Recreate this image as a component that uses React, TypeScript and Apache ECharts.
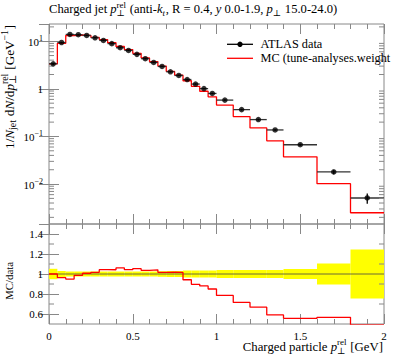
import React, { useEffect, useRef } from 'react';
import * as echarts from 'echarts';

// ---------- data ----------
const binEdges = [0, 0.05, 0.1, 0.15, 0.2, 0.25, 0.3, 0.35, 0.4, 0.45, 0.5, 0.55, 0.6, 0.65, 0.7, 0.75, 0.8, 0.85, 0.9, 0.95, 1.0, 1.1, 1.2, 1.3, 1.4, 1.6, 1.8, 2.0];
const dataVals = [3.36, 9.4, 13.9, 13.7, 13.2, 11.8, 10.4, 8.9, 7.3, 6.4, 5.3, 4.3, 3.58, 2.95, 2.28, 1.91, 1.57, 1.26, 1.01, 0.80, 0.58, 0.366, 0.226, 0.137, 0.067, 0.018, 0.0051];
const dataRelErr = [0.052, 0.03, 0.025, 0.025, 0.025, 0.025, 0.025, 0.025, 0.025, 0.025, 0.025, 0.025, 0.025, 0.028, 0.03, 0.03, 0.035, 0.035, 0.035, 0.035, 0.04, 0.04, 0.04, 0.04, 0.05, 0.105, 0.245];
const mcVals = [3.36, 9.05, 13.2, 13.5, 13.3, 12.0, 10.85, 9.28, 7.74, 6.68, 5.58, 4.46, 3.73, 3.0, 2.32, 1.94, 1.48, 1.13, 0.89, 0.68, 0.456, 0.262, 0.151, 0.081, 0.0373, 0.0102, 0.0025];
const xTickLabels = ['0', '0.5', '1', '1.5', '2'];
const ratioMajorTicks = [0.6, 0.8, 1.0, 1.2, 1.4];
const ratioMinorTicks = [0.7, 0.9, 1.1, 1.3];
const legendNames = ['ATLAS data', 'MC (tune-analyses.weight'];

const FONT = '"Liberation Serif", "DejaVu Serif", serif';
const AX = '#888';

let mctx: CanvasRenderingContext2D | null = null;
function textW(t: string, size: number, it?: boolean) {
  if (!mctx) mctx = document.createElement('canvas').getContext('2d');
  mctx!.font = `${it ? 'italic ' : ''}${size}px ${FONT}`;
  return mctx!.measureText(t).width;
}
function txt(t: string, x: number, y: number, size: number, it?: boolean) {
  return {
    type: 'text', x, y,
    style: { text: t, font: `${it ? 'italic ' : ''}${size}px ${FONT}`, fill: '#000', align: 'left', verticalAlign: 'middle', textAlign: 'left', textVerticalAlign: 'middle' },
  };
}
type Seg = { t?: string; it?: boolean; sup?: string; sub?: string; supIt?: boolean; subIt?: boolean };
function mathGroup(segs: Seg[], x: number, y: number, size: number, align: 'left' | 'right', rotation = 0, sr = 0.7) {
  const ss = size * sr;
  const up = -size * 0.37;
  const dn = size * 0.3;
  const children: any[] = [];
  let cx = 0;
  for (const s of segs) {
    if (s.t != null) {
      children.push(txt(s.t, cx, 0, size, s.it));
      cx += textW(s.t, size, s.it);
    } else {
      let w = 0;
      if (s.sup) { children.push(txt(s.sup, cx, up, ss, s.supIt)); w = Math.max(w, textW(s.sup, ss, s.supIt)); }
      if (s.sub) { children.push(txt(s.sub, cx, dn, ss, s.subIt)); w = Math.max(w, textW(s.sub, ss, s.subIt)); }
      cx += w + size * 0.05;
    }
  }
  const off = align === 'right' ? -cx : 0;
  children.forEach((c) => (c.x += off));
  return { type: 'group', x, y, rotation, z: 100, children };
}

export default function App() {
  const ref = useRef<HTMLDivElement>(null);
  useEffect(() => {
    const chart = echarts.init(ref.current!, undefined, { renderer: 'svg' });
    const n = dataVals.length;
    const mcLine = mcVals.map((v, i) => [binEdges[i], v]).concat([[binEdges[n], mcVals[n - 1]]]);
    const ratios = mcVals.map((v, i) => v / dataVals[i]);
    const ratioLine = ratios.map((v, i) => [binEdges[i], v]).concat([[binEdges[n], ratios[n - 1]]]);
    const centers = dataVals.map((_, i) => (binEdges[i] + binEdges[i + 1]) / 2);
    const pts = dataVals.map((v, i) => [centers[i], v]);
    const errs = dataVals.map((v, i) => [binEdges[i], binEdges[i + 1], centers[i], v, v * (1 - dataRelErr[i]), v * (1 + dataRelErr[i])]);
    const band = dataRelErr.map((e, i) => [binEdges[i], binEdges[i + 1], 1 - e, 1 + e]);
    const yMin = 0.00145, yMax = 23;
    const logMinor: number[][] = [];
    for (let k = -3; k <= 1; k++) for (let m = 2; m <= 9; m++) {
      const v = m * Math.pow(10, k);
      if (v > yMin && v < yMax) logMinor.push([0, v]);
    }

    const xCommon = (grid: number, pos: string, labels: boolean) => ({
      type: 'value', gridIndex: grid, position: pos, min: 0, max: 2, interval: 0.5,
      axisLine: { show: false }, splitLine: { show: false },
      axisTick: { show: true, inside: true, length: 10, lineStyle: { color: AX } },
      minorTick: { show: true, splitNumber: 5, length: 5, lineStyle: { color: AX } },
      axisLabel: labels
        ? { show: true, margin: 6, fontSize: 11, fontFamily: FONT, color: '#000', formatter: (v: number) => xTickLabels[Math.round(v * 2)] }
        : { show: false },
    });
    const tickSeries = (data: number[][], xi: number, yi: number) => ({
      type: 'custom', xAxisIndex: xi, yAxisIndex: yi, silent: true, clip: false, z: 5,
      encode: { x: 0, y: 1 },
      data,
      renderItem: (params: any, api: any) => {
        const v = api.value(1);
        const l = api.coord([0, v]);
        const r = api.coord([2, v]);
        const st = { stroke: AX, lineWidth: 1 };
        return {
          type: 'group', children: [
            { type: 'line', shape: { x1: l[0], y1: l[1], x2: l[0] + 5, y2: l[1] }, style: st },
            { type: 'line', shape: { x1: r[0] - 5, y1: r[1], x2: r[0], y2: r[1] }, style: st },
          ],
        };
      },
    });
    const logLabel = (v: number) => {
      const e = Math.round(Math.log10(v));
      if (e === 0) return '{b|1}';
      return `{b|10}{s|${e < 0 ? '\u2212' + -e : e}}`;
    };

    chart.setOption({
      animation: false,
      textStyle: { fontFamily: FONT },
      grid: [
        { left: 49, top: 24, width: 335, height: 200, show: true, borderColor: AX, borderWidth: 1, backgroundColor: 'transparent' },
        { left: 49, top: 224, width: 335, height: 100, show: true, borderColor: AX, borderWidth: 1, backgroundColor: 'transparent' },
      ],
      xAxis: [xCommon(0, 'bottom', false), xCommon(0, 'top', false), xCommon(1, 'bottom', true), xCommon(1, 'top', false)],
      yAxis: [
        {
          type: 'log', logBase: 10, gridIndex: 0, position: 'left', min: yMin, max: yMax,
          axisLine: { show: false }, splitLine: { show: false },
          axisTick: { show: true, inside: true, length: 10, lineStyle: { color: AX } },
          axisLabel: {
            show: true, margin: 6, showMinLabel: false, showMaxLabel: false, formatter: logLabel,
            rich: {
              b: { fontSize: 11, fontFamily: FONT, color: '#000', verticalAlign: 'bottom' },
              s: { fontSize: 8, fontFamily: FONT, color: '#000', verticalAlign: 'bottom', padding: [0, 0, 5, 0] },
            },
          },
        },
        {
          type: 'log', logBase: 10, gridIndex: 0, position: 'right', min: yMin, max: yMax,
          axisLine: { show: false }, splitLine: { show: false },
          axisTick: { show: true, inside: true, length: 10, lineStyle: { color: AX } },
          axisLabel: { show: false },
        },
        {
          type: 'value', gridIndex: 1, position: 'left', min: 0.5, max: 1.5,
          axisLine: { show: false }, splitLine: { show: false },
          axisTick: { show: true, inside: true, length: 10, customValues: ratioMajorTicks, lineStyle: { color: AX } },
          axisLabel: { show: true, margin: 6, fontSize: 11, fontFamily: FONT, color: '#000', customValues: ratioMajorTicks, formatter: (v: number) => String(Number(v.toFixed(1))) },
        },
        {
          type: 'value', gridIndex: 1, position: 'right', min: 0.5, max: 1.5,
          axisLine: { show: false }, splitLine: { show: false },
          axisTick: { show: true, inside: true, length: 10, customValues: ratioMajorTicks, lineStyle: { color: AX } },
          axisLabel: { show: false },
        },
      ],
      series: [
        {
          type: 'custom', xAxisIndex: 2, yAxisIndex: 2, z: 1, silent: true,
          encode: { x: [0, 1], y: [2, 3] },
          data: band,
          renderItem: (params: any, api: any) => {
            const a = api.coord([api.value(0), api.value(3)]);
            const b = api.coord([api.value(1), api.value(2)]);
            return { type: 'rect', shape: { x: a[0], y: a[1], width: b[0] - a[0], height: b[1] - a[1] }, style: { fill: '#ffff00' } };
          },
        },
        {
          type: 'line', xAxisIndex: 2, yAxisIndex: 2, z: 2, symbol: 'none', silent: true,
          data: [[0, 1], [2, 1]], lineStyle: { color: '#444', width: 0.8 },
        },
        {
          type: 'line', xAxisIndex: 2, yAxisIndex: 2, z: 3, symbol: 'none', step: 'end', clip: true,
          data: ratioLine, lineStyle: { color: '#ff0000', width: 1.3 },
        },
        {
          type: 'line', xAxisIndex: 0, yAxisIndex: 0, z: 3, symbol: 'none', step: 'end', clip: true,
          data: mcLine, lineStyle: { color: '#ff0000', width: 1.3 },
        },
        {
          type: 'custom', xAxisIndex: 0, yAxisIndex: 0, z: 4, silent: true,
          encode: { x: [0, 1, 2], y: [3, 4, 5] },
          data: errs,
          renderItem: (params: any, api: any) => {
            const l = api.coord([api.value(0), api.value(3)]);
            const r = api.coord([api.value(1), api.value(3)]);
            const lo = api.coord([api.value(2), api.value(4)]);
            const hi = api.coord([api.value(2), api.value(5)]);
            return {
              type: 'group', children: [
                { type: 'line', shape: { x1: l[0], y1: l[1], x2: r[0], y2: r[1] }, style: { stroke: '#333', lineWidth: 1.3 } },
                { type: 'line', shape: { x1: lo[0], y1: lo[1], x2: hi[0], y2: hi[1] }, style: { stroke: '#000', lineWidth: 1.3 } },
              ],
            };
          },
        },
        {
          type: 'scatter', xAxisIndex: 0, yAxisIndex: 0, z: 5, symbol: 'circle', symbolSize: 5.5,
          data: pts, itemStyle: { color: '#000' },
        },
        tickSeries(logMinor, 0, 0),
        tickSeries(ratioMinorTicks.map((v) => [0, v]), 2, 2),
      ],
      graphic: [
        mathGroup([
          { t: 'Charged jet ' }, { t: 'p', it: true }, { sup: 'rel', sub: '\u22a5' },
          { t: ' (anti-' }, { t: 'k', it: true }, { sub: 't', subIt: true },
          { t: ', R = 0.4, ' }, { t: 'y', it: true }, { t: ' 0.0-1.9, ' }, { t: 'p', it: true }, { sub: '\u22a5' },
          { t: ' 15.0-24.0)' },
        ], 49, 9.3, 12.6, 'left'),
        mathGroup([
          { t: 'Charged particle ' }, { t: 'p', it: true }, { sup: 'rel', sub: '\u22a5' }, { t: ' [GeV]' },
        ], 383, 347, 12.8, 'right'),
        mathGroup([
          { t: '1/' }, { t: 'N', it: true }, { sub: 'jet' }, { t: ' d' }, { t: 'N', it: true }, { t: '/d' },
          { t: 'p', it: true }, { sup: 'rel', sub: '\u22a5' }, { t: ' [GeV' }, { sup: '\u22121' }, { t: ']' },
        ], 9, 25, 13.2, 'right', Math.PI / 2, 0.74),
        mathGroup([{ t: 'MC/data' }], 9, 262, 10.8, 'right', Math.PI / 2),
        { type: 'line', z: 100, shape: { x1: 227, y1: 44.3, x2: 253, y2: 44.3 }, style: { stroke: '#000', lineWidth: 1.3 } },
        { type: 'circle', z: 100, shape: { cx: 240, cy: 44.3, r: 2.7 }, style: { fill: '#000' } },
        txt(legendNames[0], 260.5, 44.3, 12.3),
        { type: 'line', z: 100, shape: { x1: 227, y1: 58.3, x2: 253, y2: 58.3 }, style: { stroke: '#ff0000', lineWidth: 1.3 } },
        txt(legendNames[1], 260.5, 58.3, 12.3),
      ].map((g: any) => ({ z: 100, ...g })),
    });
    return () => chart.dispose();
  }, []);
  return <div ref={ref} style={{ position: 'absolute', left: 0, top: 0, width: 397, height: 358 }} />;
}
